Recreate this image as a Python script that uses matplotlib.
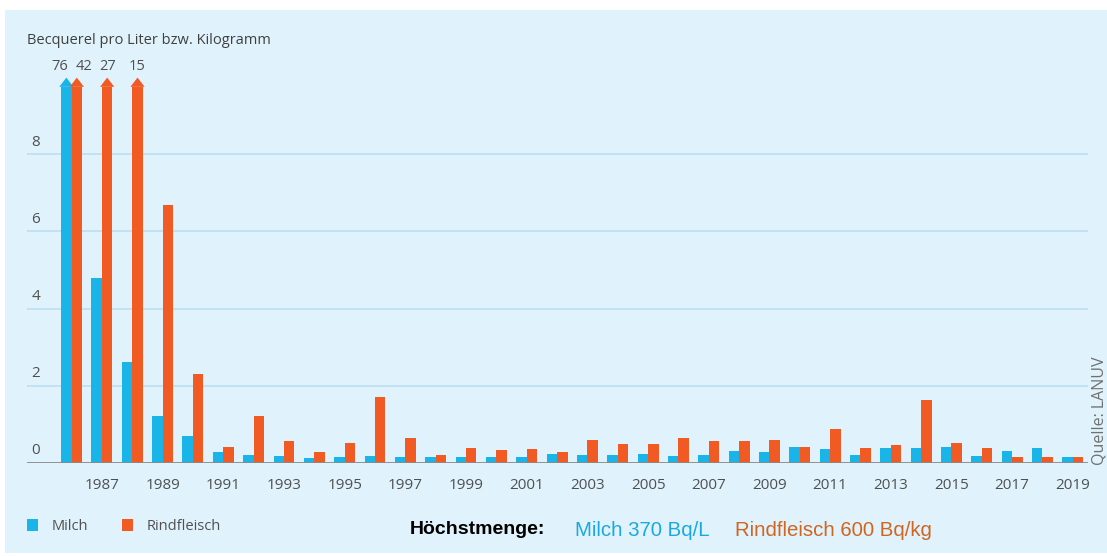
import matplotlib.pyplot as plt
from matplotlib.patches import Rectangle, Polygon
import numpy as np


years = list(range(1986, 2020))
milch = [76, 4.8, 2.6, 1.2, 0.68, 0.29, 0.2, 0.18, 0.13, 0.16, 0.18, 0.16,
         0.15, 0.15, 0.15, 0.15, 0.23, 0.2, 0.2, 0.23, 0.17, 0.2, 0.3, 0.28,
         0.4, 0.35, 0.2, 0.37, 0.37, 0.42, 0.17, 0.3, 0.37, 0.15]
rind = [42, 27, 15, 6.68, 2.31, 0.42, 1.2, 0.55, 0.29, 0.51, 1.7, 0.65,
        0.2, 0.38, 0.33, 0.35, 0.27, 0.59, 0.49, 0.49, 0.63, 0.55, 0.55, 0.6,
        0.4, 0.87, 0.37, 0.47, 1.63, 0.52, 0.38, 0.14, 0.15, 0.15]
year_labels = [str(y) for y in range(1987, 2020, 2)]
yticks = [0, 2, 4, 6, 8]

W, H = 1107, 556
DPI = 100

BG = "#e0f3fc"
BLUE = "#19b5e9"
ORANGE = "#f15a22"
GRID = "#bfe1f3"
TEXT = "#505050"

CAP = 9.75       # truncated bars stop here, arrow head above
HEAD = 0.24
BAR_W = 0.345

plt.rcParams["font.family"] = ["Open Sans", "DejaVu Sans"]

fig = plt.figure(figsize=(W / DPI, H / DPI), dpi=DPI, facecolor="white")
fig.patches.append(Rectangle((5 / W, 3 / H), 1 - 5 / W, (H - 13) / H,
                             transform=fig.transFigure, facecolor=BG,
                             edgecolor="none", zorder=-10))

# axes: x from px 27 to 1088, y=0 at px 462.7, 38.55 px per unit
ax_left, ax_right = 27 / W, 1088 / W
y0_px = 462.7
top_px = 60
ppu = 38.55
ax = fig.add_axes([ax_left, (H - y0_px) / H, ax_right - ax_left,
                   (y0_px - top_px) / H])
ax.set_facecolor("none")
ax.set_xlim(1984.53, 2019.5)
ax.set_ylim(0, (y0_px - top_px) / ppu)
for s in ax.spines.values():
    s.set_visible(False)
ax.tick_params(length=0)
ax.set_yticks([])

x = np.array(years)
mv = np.minimum(milch, CAP)
rv = np.minimum(rind, CAP)
ax.bar(x - BAR_W / 2, mv, width=BAR_W, color=BLUE, zorder=3, linewidth=0)
ax.bar(x + BAR_W / 2, rv, width=BAR_W, color=ORANGE, zorder=3, linewidth=0)

# arrows and values for clipped bars
for i, yr in enumerate(years):
    both = milch[i] > CAP and rind[i] > CAP
    for xc, v, col, side in [(yr - BAR_W / 2, milch[i], BLUE, -1),
                             (yr + BAR_W / 2, rind[i], ORANGE, 1)]:
        if v <= CAP:
            continue
        hw = BAR_W * 0.68
        ax.add_patch(Polygon([[xc - hw, CAP], [xc + hw, CAP], [xc, CAP + HEAD]],
                             closed=True, facecolor=col, edgecolor="none",
                             zorder=4, clip_on=False))
        shift = side * 0.22 if both else 0
        ax.text(xc + shift, CAP + HEAD + 0.1, f"{v:g}", ha="center",
                va="bottom", fontsize=10.5, color=TEXT)

# grid and baseline
for t in yticks[1:]:
    ax.axhline(t, color=GRID, lw=1.3, zorder=1)
ax.axhline(0, color="#8a8a8a", lw=1.3, zorder=5)
for t in yticks:
    ax.text(0.004, t + 0.12, str(t), transform=ax.get_yaxis_transform(),
            ha="left", va="bottom", fontsize=11, color=TEXT)

ax.set_xticks(range(1987, 2020, 2))
ax.set_xticklabels(year_labels, fontsize=11, color=TEXT)
ax.tick_params(axis="x", pad=11)

fig.text(27 / W, 1 - 41 / H, "Becquerel pro Liter bzw. Kilogramm",
         ha="left", va="center", fontsize=10.5, color="#404040")

# legend
for px, col, lab in [(27, BLUE, "Milch"), (122, ORANGE, "Rindfleisch")]:
    fig.patches.append(Rectangle((px / W, 1 - 531 / H), 11 / W, 12 / H,
                                 transform=fig.transFigure, facecolor=col,
                                 edgecolor="none"))
    fig.text((px + 25) / W, 1 - 527 / H, lab, ha="left", va="center",
             fontsize=10.5, color=TEXT)

narrow = ["Liberation Sans Narrow", "Liberation Sans", "DejaVu Sans"]
fig.text(410 / W, 1 - 530 / H, "Höchstmenge:", ha="left", va="center",
         fontsize=14, color="black", family=narrow, weight="bold")
fig.text(575 / W, 1 - 530 / H, "Milch 370 Bq/L", ha="left", va="center",
         fontsize=14.7, color="#1aa8e0", family=narrow)
fig.text(735 / W, 1 - 530 / H, "Rindfleisch 600 Bq/kg", ha="left", va="center",
         fontsize=14.7, color="#d0651f", family=narrow)

fig.text(1099 / W, 1 - 465 / H, "Quelle: LANUV", rotation=90, ha="center",
         va="bottom", fontsize=11.5, color="#707070")

fig.savefig("out.png", dpi=DPI, facecolor="white")
